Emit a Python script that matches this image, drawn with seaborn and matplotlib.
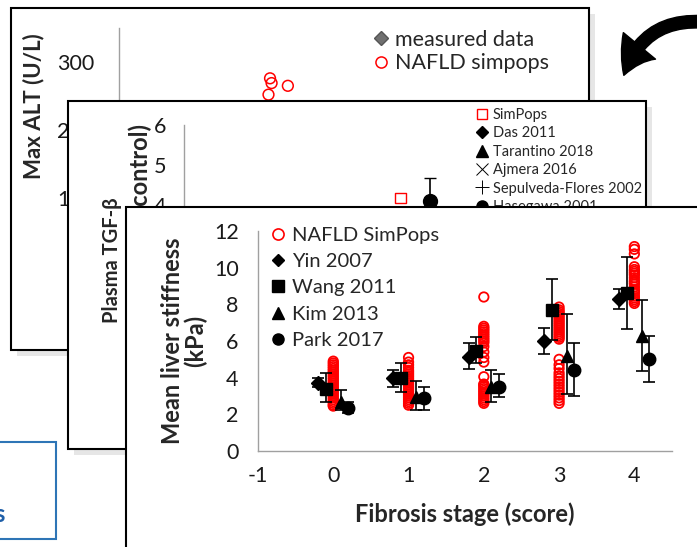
import pandas as pd
import matplotlib.pyplot as plt
import seaborn as sns
from matplotlib.patches import Rectangle, FancyArrowPatch
from matplotlib.lines import Line2D

sns.set_theme(style="white")
plt.rcParams['font.family'] = ['Lato', 'DejaVu Sans']
plt.rcParams['axes.unicode_minus'] = False

W, H = 697, 547

# ---------------- data ----------------
# back card: max ALT
alt_stage = [0.95, 0.97, 0.93, 1.18]
alt_value = [276, 269, 252, 265]

# middle card: plasma TGF-beta
tgf_simpop_x = [1.70]
tgf_simpop_y = [4.18]
hasegawa_x = [2.07]
hasegawa_y = [4.10]
hasegawa_hi = [4.67]

# front card: liver stiffness
stages = [0, 1, 2, 3, 4]
simpop_s0 = [2.45, 2.5, 2.6, 2.7, 2.8, 2.9, 3.0, 3.1, 3.2, 3.3, 3.4, 3.5, 3.6,
             3.7, 3.8, 3.9, 4.0, 4.1, 4.2, 4.3, 4.4, 4.5, 4.6, 4.7, 4.8, 4.9]
simpop_s1 = [2.5, 2.6, 2.7, 2.8, 2.9, 3.0, 3.1, 3.2, 3.3, 3.4, 3.5, 3.6, 3.7,
             3.8, 3.9, 4.0, 4.1, 4.2, 4.3, 4.4, 4.55, 4.7, 4.85, 5.1]
simpop_s2 = [2.6, 2.7, 2.8, 2.9, 3.0, 3.1, 3.2, 3.3, 3.4, 3.5, 3.6, 3.65, 4.05,
             4.85, 5.1, 5.4, 5.7, 5.9, 6.0, 6.1, 6.2, 6.3, 6.4, 6.5, 6.6, 6.7,
             6.8, 8.4]
simpop_s3 = [2.6, 2.75, 2.9, 3.05, 3.2, 3.35, 3.5, 3.65, 3.8, 3.95, 4.1, 4.26,
             4.5, 4.7, 5.0, 6.1, 6.2, 6.3, 6.4, 6.5, 6.6, 6.7, 6.8, 6.9, 7.0,
             7.1, 7.2, 7.3, 7.4, 7.5, 7.6, 7.7, 7.85]
simpop_s4 = [8.05, 8.15, 8.25, 8.35, 8.45, 8.6, 8.7, 8.8, 8.95, 9.1, 9.2, 9.3,
             9.45, 9.6, 9.7, 9.8, 9.9, 10.05, 10.75, 11.0, 11.15]

yin_mean = [3.72, 4.0, 5.15, 6.0, 8.3]
yin_lo = [3.5, 3.5, 4.5, 5.3, 7.75]
yin_hi = [4.0, 4.4, 5.9, 6.7, 8.85]

wang_mean = [3.4, 4.0, 5.45, 7.7, 8.6]
wang_lo = [2.7, 3.2, 4.8, 6.05, 6.65]
wang_hi = [4.25, 4.8, 6.2, 9.4, 10.6]

kim_mean = [2.7, 2.95, 3.5, 5.2, 6.3]
kim_lo = [2.25, 2.25, 2.7, 3.1, 4.35]
kim_hi = [3.35, 3.8, 4.4, 7.5, 8.25]

park_mean = [2.35, 2.9, 3.5, 4.4, 5.0]
park_lo = [2.1, 2.25, 2.95, 3.0, 3.75]
park_hi = [2.65, 3.5, 4.2, 5.9, 6.25]

simpops = pd.concat([
    pd.DataFrame({'stage': s, 'stiffness': v})
    for s, v in zip(stages, [simpop_s0, simpop_s1, simpop_s2, simpop_s3, simpop_s4])
])

# ---------------- helpers ----------------
GRAY = '#a0a0a0'


def frac(l, t, r, b):
    return [l / W, 1 - b / H, (r - l) / W, (b - t) / H]


def card(fig, l, t, r, b, z):
    fig.add_artist(Rectangle(((l + 6) / W, 1 - (b + 6) / H), (r - l) / W, (b - t) / H,
                             transform=fig.transFigure, facecolor='#e6e6e6',
                             edgecolor='none', zorder=z - 0.5))
    fig.add_artist(Rectangle((l / W, 1 - b / H), (r - l) / W, (b - t) / H,
                             transform=fig.transFigure, facecolor='white',
                             edgecolor='black', linewidth=1.5, zorder=z))


def style_axis(ax, show_x=True):
    sns.despine(ax=ax)
    ax.patch.set_visible(False)
    for sp in ['left', 'bottom']:
        ax.spines[sp].set_color(GRAY)
        ax.spines[sp].set_linewidth(1.0)
    ax.tick_params(direction='out', length=6, width=1, color=GRAY,
                   labelsize=15.5, labelcolor='#1a1a1a', pad=8)
    if not show_x:
        ax.spines['bottom'].set_visible(False)
        ax.set_xticks([])
    ax.grid(False)


fig = plt.figure(figsize=(W / 100, H / 100), dpi=100)

# blue box bottom left
fig.add_artist(Rectangle((-20 / W, 1 - 539 / H), 76 / W, 97 / H, transform=fig.transFigure,
                         facecolor='white', edgecolor='#2e75b6', linewidth=1.5, zorder=0.5))
fig.text(5 / W, 1 - 514 / H, 's', color='#1f5fa8', fontsize=17, fontweight='bold',
         ha='right', va='center', zorder=0.6)

# ---------- card 1 ----------
card(fig, 11, 8, 589, 350, 1)
ax1 = fig.add_axes(frac(119, 28, 545, 266), zorder=2)
sns.scatterplot(x=alt_stage, y=alt_value, ax=ax1, marker='o', s=60,
                facecolor='none', edgecolor='red', linewidth=1.1, legend=False)
ax1.set_xlim(-1, 4.5)
ax1.set_ylim(0, 350)
ax1.set_yticks([100, 200, 300])
style_axis(ax1, show_x=False)
ax1.tick_params(axis='y', length=8, pad=10)
ax1.set_ylabel('Max ALT (U/L)', fontsize=16, fontweight='bold')
ax1.yaxis.set_label_coords(-0.175, 0.672)
h1 = [Line2D([], [], ls='none', marker='D', ms=7, mfc='#707070', mec='#555555'),
      Line2D([], [], ls='none', marker='o', ms=8, mfc='none', mec='red', mew=1.1)]
ax1.legend(h1, ['measured data', 'NAFLD simpops'], loc='upper left',
           bbox_to_anchor=(375 / W, 1 - 30 / H), bbox_transform=fig.transFigure,
           frameon=False, fontsize=15.5, handlelength=0.6, handletextpad=0.33,
           labelspacing=0.15, borderpad=0, borderaxespad=0)

# ---------- card 2 ----------
card(fig, 68, 101, 646, 449, 3)
ax2 = fig.add_axes(frac(184, 125, 625, 365), zorder=4)
sns.scatterplot(x=tgf_simpop_x, y=tgf_simpop_y, ax=ax2, marker='s', s=55,
                facecolor='none', edgecolor='red', linewidth=1.0, legend=False)
ax2.errorbar(hasegawa_x, hasegawa_y,
             yerr=[[0] * len(hasegawa_y), [h - m for h, m in zip(hasegawa_hi, hasegawa_y)]],
             fmt='o', color='black', ms=10, capsize=4, elinewidth=1.2)
ax2.set_xlim(-1, 4.5)
ax2.set_ylim(0, 6)
ax2.set_yticks([4, 5, 6])
style_axis(ax2, show_x=False)
ax2.tick_params(axis='y', length=7, pad=6)
fig.text(112 / W, 1 - 260 / H, 'Plasma TGF-β', rotation=90, fontsize=14.5,
         fontweight='bold', ha='center', va='center', zorder=4)
fig.text(140 / W, 1 - 124 / H, '(fold change vs control)', rotation=90, fontsize=17,
         fontweight='bold', ha='center', va='top', zorder=4)
h2 = [Line2D([], [], ls='none', marker='s', ms=7, mfc='none', mec='red', mew=1.0),
      Line2D([], [], ls='none', marker='D', ms=6, color='black'),
      Line2D([], [], ls='none', marker='^', ms=8, color='black'),
      Line2D([], [], ls='none', marker='x', ms=9, color='black', mew=0.7),
      Line2D([], [], ls='none', marker='+', ms=10, color='black', mew=0.7),
      Line2D([], [], ls='none', marker='o', ms=8, color='black')]
ax2.legend(h2, ['SimPops', 'Das 2011', 'Tarantino 2018', 'Ajmera 2016',
                'Sepulveda-Flores 2002', 'Hasegawa 2001'], loc='upper left',
           bbox_to_anchor=(478 / W, 1 - 108 / H), bbox_transform=fig.transFigure,
           frameon=False, fontsize=10.5, handlelength=0.6, handletextpad=0.4,
           labelspacing=0.3, borderpad=0, borderaxespad=0)

# ---------- card 3 ----------
card(fig, 126, 207, 720, 570, 5)
ax3 = fig.add_axes(frac(258, 231, 672, 451), zorder=6)
sns.scatterplot(data=simpops, x='stage', y='stiffness', ax=ax3, marker='o', s=46,
                facecolor='none', edgecolor='red', linewidth=1.3, legend=False, zorder=3)

studies = [(yin_mean, yin_lo, yin_hi, 'D', 7, -0.2),
           (wang_mean, wang_lo, wang_hi, 's', 9, -0.1),
           (kim_mean, kim_lo, kim_hi, '^', 9, 0.1),
           (park_mean, park_lo, park_hi, 'o', 9, 0.2)]
for mean, lo, hi, mk, ms, off in studies:
    ax3.errorbar([s + off for s in stages], mean,
                 yerr=[[m - a for m, a in zip(mean, lo)], [b - m for m, b in zip(mean, hi)]],
                 fmt=mk, color='black', ms=ms, capsize=4, elinewidth=1.2,
                 capthick=1.2, zorder=4)

ax3.set_xlim(-1, 4.5)
ax3.set_ylim(0, 12)
ax3.set_xticks([-1, 0, 1, 2, 3, 4])
ax3.set_yticks([0, 2, 4, 6, 8, 10, 12])
style_axis(ax3)
ax3.tick_params(axis='y', length=5, pad=9)
ax3.tick_params(axis='x', length=5, pad=6)
ax3.set_xlabel('Fibrosis stage (score)', fontsize=17, fontweight='bold')
ax3.set_ylabel('Mean liver stiffness\n(kPa)', fontsize=17, fontweight='bold',
               linespacing=1.0)
ax3.xaxis.set_label_coords(0.5, -0.232)
ax3.yaxis.set_label_coords(-0.122, 0.5)

h3 = [Line2D([], [], ls='none', marker='o', ms=8, mfc='none', mec='red', mew=1.2),
      Line2D([], [], ls='none', marker='D', ms=6, color='black'),
      Line2D([], [], ls='none', marker='s', ms=8, color='black'),
      Line2D([], [], ls='none', marker='^', ms=8, color='black'),
      Line2D([], [], ls='none', marker='o', ms=8, color='black')]
ax3.legend(h3, ['NAFLD SimPops', 'Yin 2007', 'Wang 2011', 'Kim 2013', 'Park 2017'],
           loc='upper left', bbox_to_anchor=(271 / W, 1 - 227 / H),
           bbox_transform=fig.transFigure, frameon=False, fontsize=14.5,
           handlelength=0.7, handletextpad=0.35, labelspacing=0.45,
           borderpad=0, borderaxespad=0)

# curved arrow top right
fig.add_artist(FancyArrowPatch((705 / W, 1 - 22 / H), (623 / W, 1 - 78 / H),
                               transform=fig.transFigure,
                               connectionstyle='arc3,rad=0.4',
                               arrowstyle='simple,head_length=0.8,head_width=1.0,tail_width=0.3',
                               mutation_scale=30, color='black', zorder=7))

fig.savefig('out.png', dpi=100)
